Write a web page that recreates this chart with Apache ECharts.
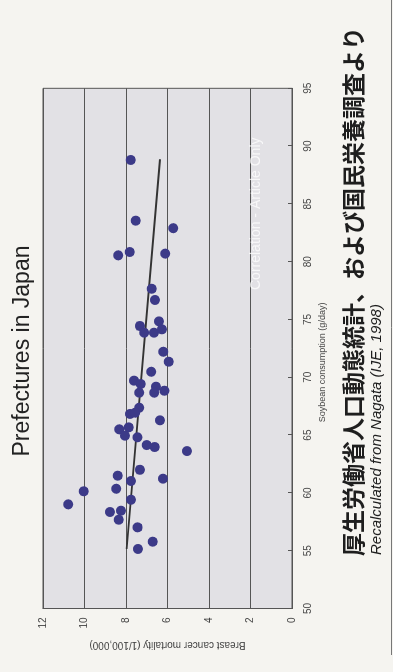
<!DOCTYPE html>
<html>
<head>
<meta charset="utf-8">
<script src="https://cdn.jsdelivr.net/npm/echarts@6/dist/echarts.min.js"></script>
<style>
  html, body { margin: 0; padding: 0; width: 393px; height: 672px; overflow: hidden; background: #f5f4f0; }
  #rot { position: absolute; left: 0; top: 0; width: 672px; height: 393px;
         transform-origin: 0 0; transform: translate(0px, 672px) rotate(-90deg); }
  #chart { width: 672px; height: 393px; }
</style>
</head>
<body>
<div id="rot"><div id="chart"></div></div>
<script>
// Soybean consumption (g/day), one per prefecture
const soybean = [88.8, 83.55, 82.9, 80.55, 80.84, 80.7, 77.66, 76.69, 74.84, 74.44,
  73.86, 73.86, 74.15, 72.21, 71.35, 70.48, 69.71, 69.42, 69.19, 68.67,
  68.67, 68.84, 67.37, 66.83, 66.94, 66.28, 65.5, 65.67, 64.95, 64.81,
  64.14, 63.97, 63.62, 62.0, 61.49, 61.03, 61.23, 60.36, 60.14, 59.01,
  59.41, 58.35, 58.46, 57.68, 57.02, 55.78, 55.15];
// Breast cancer mortality (1/100,000)
const mortality = [7.77, 7.53, 5.72, 8.37, 7.82, 6.11, 6.76, 6.60, 6.41, 7.33,
  7.12, 6.65, 6.27, 6.20, 5.94, 6.78, 7.61, 7.29, 6.55, 7.36,
  6.64, 6.15, 7.36, 7.81, 7.55, 6.36, 8.32, 7.87, 8.05, 7.45,
  7.00, 6.62, 5.06, 7.33, 8.40, 7.76, 6.22, 8.47, 10.04, 10.78,
  7.76, 8.77, 8.24, 8.35, 7.44, 6.71, 7.42];
// Trend line end points [soybean, mortality]
const trendSoy = [55.15, 88.86];
const trendMort = [7.97, 6.36];

const titleText = 'Prefectures in Japan';
const xName = 'Soybean consumption (g/day)';
const yName = 'Breast cancer mortality (1/100,000)';
const sourceJa = '厚生労働省人口動態統計、および国民栄養調査より';
const sourceEn = 'Recalculated from Nagata (IJE, 1998)';
const watermark = 'Correlation - Article Only';

const pts = soybean.map((s, i) => [s, mortality[i]]);
const trend = trendSoy.map((s, i) => [s, trendMort[i]]);

const chart = echarts.init(document.getElementById('chart'));
chart.setOption({
  backgroundColor: '#f5f4f0',
  animation: false,
  title: {
    text: titleText, left: 316, top: 6, textAlign: 'center',
    textStyle: { fontFamily: 'Liberation Sans, Arial, sans-serif', fontSize: 23, fontWeight: 'normal', color: '#222' }
  },
  grid: { left: 63.5, right: 88.3, top: 43, bottom: 101, show: true,
          backgroundColor: '#e2e1e5', borderColor: '#555', borderWidth: 1 },
  xAxis: {
    type: 'value', min: 50, max: 95, interval: 5,
    name: xName, nameLocation: 'middle', nameGap: 25,
    nameTextStyle: { fontFamily: 'Liberation Sans, Arial, sans-serif', fontSize: 9, color: '#444', padding: [0, 28, 0, 0] },
    axisLine: { show: true, lineStyle: { color: '#555', width: 1 } },
    axisTick: { show: true, inside: true, length: 4, lineStyle: { color: '#555' } },
    axisLabel: { margin: 11, fontFamily: 'Liberation Sans, Arial, sans-serif', fontSize: 10, color: '#444' },
    splitLine: { show: false }
  },
  yAxis: {
    type: 'value', min: 0, max: 12, interval: 2,
    name: yName, nameLocation: 'middle', nameGap: 30,
    nameTextStyle: { fontFamily: 'Liberation Sans, Arial, sans-serif', fontSize: 10, color: '#444' },
    axisLine: { show: true, lineStyle: { color: '#555', width: 1 } },
    axisTick: { show: false },
    axisLabel: { margin: 9, fontFamily: 'Liberation Sans, Arial, sans-serif', fontSize: 10, color: '#444' },
    splitLine: { show: true, lineStyle: { color: '#555', width: 1 } }
  },
  graphic: [
    { type: 'text', left: 382, top: 249, z: 1,
      style: { text: watermark, fill: 'rgba(255,255,255,0.75)', font: '14px Liberation Sans, Arial, sans-serif' } },
    { type: 'text', left: 116, top: 342,
      style: { text: sourceJa, fill: '#1e1e1e', font: 'bold 23px "Noto Sans CJK JP", sans-serif' } },
    { type: 'text', left: 117, top: 369,
      style: { text: sourceEn, fill: '#1e1e1e', font: 'italic 15px Liberation Sans, Arial, sans-serif' } },
    { type: 'line', shape: { x1: 17, y1: 391.5, x2: 672, y2: 391.5 },
      style: { stroke: '#777', lineWidth: 1 } }
  ],
  series: [
    { type: 'scatter', data: pts, symbolSize: 10, z: 3,
      itemStyle: { color: '#3c3a88', opacity: 1 } },
    { type: 'line', data: trend, symbol: 'none', z: 2,
      lineStyle: { color: '#333', width: 2 } }
  ]
});
</script>
</body>
</html>
